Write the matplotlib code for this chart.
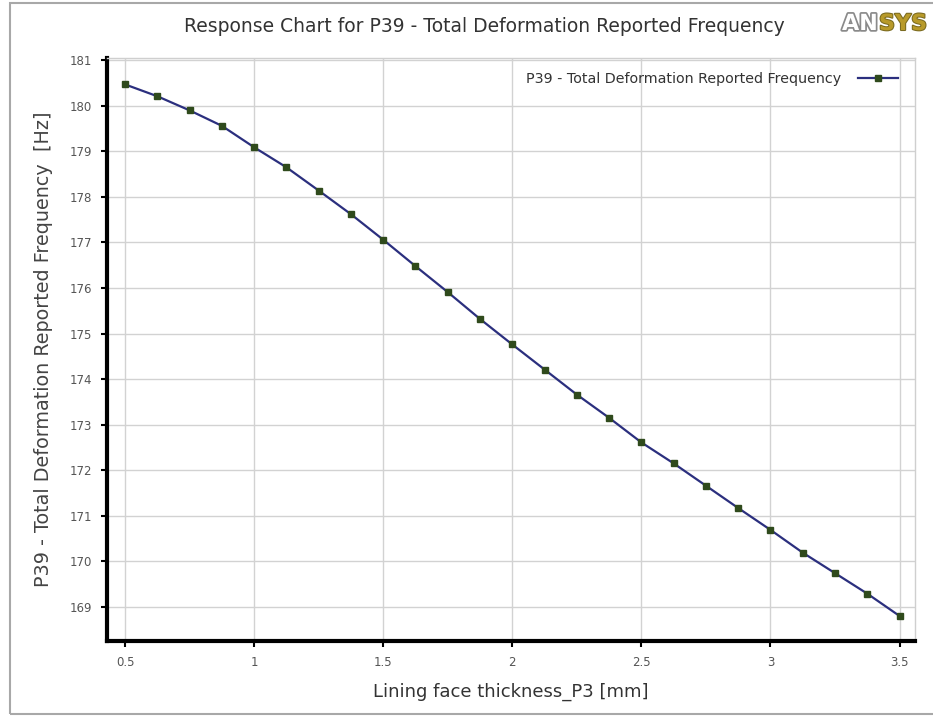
import matplotlib
matplotlib.use("Agg")
import matplotlib.pyplot as plt
import matplotlib.patheffects as pe
from matplotlib.patches import Rectangle

# ---- data ----
thickness = [0.5, 0.625, 0.75, 0.875, 1.0, 1.125, 1.25, 1.375, 1.5, 1.625,
             1.75, 1.875, 2.0, 2.125, 2.25, 2.375, 2.5, 2.625, 2.75, 2.875,
             3.0, 3.125, 3.25, 3.375, 3.5]
frequency = [180.47, 180.21, 179.90, 179.56, 179.09, 178.65, 178.14, 177.62,
             177.06, 176.48, 175.91, 175.32, 174.76, 174.21, 173.66, 173.15,
             172.61, 172.15, 171.66, 171.17, 170.69, 170.19, 169.74, 169.29,
             168.80]
x_ticks = [0.5, 1, 1.5, 2, 2.5, 3, 3.5]
x_tick_labels = ["0.5", "1", "1.5", "2", "2.5", "3", "3.5"]
y_ticks = [169, 170, 171, 172, 173, 174, 175, 176, 177, 178, 179, 180, 181]

series_label = "P39 - Total Deformation Reported Frequency"
title = "Response Chart for P39 - Total Deformation Reported Frequency"
xlabel = "Lining face thickness_P3 [mm]"
ylabel = "P39 - Total Deformation Reported Frequency  [Hz]"

W, H = 933, 716
fig = plt.figure(figsize=(W / 100, H / 100), dpi=100)
fig.patch.set_facecolor("white")

# outer frame
fig.patches.append(Rectangle((10 / W, 1 - 714 / H), 940 / W, (714 - 3) / H,
                             transform=fig.transFigure, fill=False,
                             edgecolor="#a8a8a8", linewidth=1.5))

ax = fig.add_axes([107 / W, 1 - 641 / H, (915 - 107) / W, (641 - 58) / H])
ax.plot(thickness, frequency, color="#2b2f7e", linewidth=1.6,
        marker="s", markersize=4.5, markerfacecolor="#2f4a1c",
        markeredgecolor="#2f4a1c", label=series_label)

ax.set_xlim(0.43, 3.56)
ax.set_ylim(168.25, 181.05)
ax.set_xticks(x_ticks)
ax.set_xticklabels(x_tick_labels)
ax.set_yticks(y_ticks)

ax.grid(True, color="#d2d2d2", linewidth=1.0)
ax.set_axisbelow(True)
for s in ("left", "bottom"):
    ax.spines[s].set_color("black")
    ax.spines[s].set_linewidth(3)
for s in ("top", "right"):
    ax.spines[s].set_color("#cfcfcf")
    ax.spines[s].set_linewidth(1.0)

ax.tick_params(axis="both", direction="out", length=4, width=1.5,
               color="black", labelsize=8.5, labelcolor="#555555", pad=7)

ax.set_xlabel(xlabel, fontsize=13, color="#333333", labelpad=10)
ax.set_ylabel(ylabel, fontsize=13.8, color="#444444", labelpad=12)

leg = ax.legend(loc="upper right", bbox_to_anchor=(0.995, 0.998),
                frameon=False, markerfirst=False, fontsize=10.3,
                handlelength=2.8, handletextpad=1.2)
for t in leg.get_texts():
    t.set_color("#333333")

fig.text(484 / W, 1 - 27 / H, title, ha="center", va="center",
         fontsize=13.5, color="#333333")

# ANSYS logo
fig.text(842 / W, 1 - 24 / H, "AN", ha="left", va="center",
         fontsize=16, fontweight="bold", color="white",
         path_effects=[pe.withStroke(linewidth=2.5, foreground="#8a8a8a")])
fig.text(879 / W, 1 - 24 / H, "SYS", ha="left", va="center",
         fontsize=16, fontweight="bold", color="#b89a2a",
         path_effects=[pe.withStroke(linewidth=1.5, foreground="#7a6a20")])

fig.savefig("out.png", dpi=100, facecolor="white")
